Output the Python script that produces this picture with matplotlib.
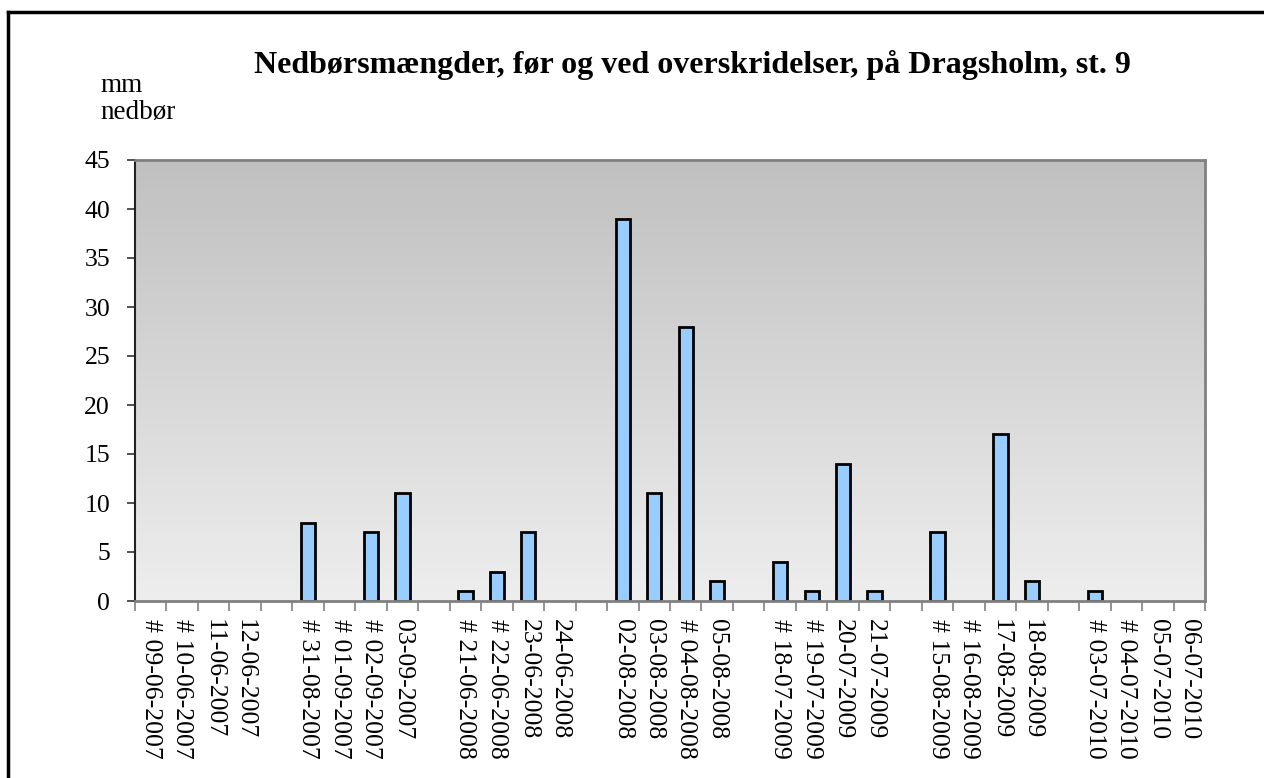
import matplotlib.pyplot as plt
import numpy as np
from matplotlib.colors import LinearSegmentedColormap
from matplotlib.lines import Line2D

plt.rcParams['font.family'] = ['Liberation Serif', 'DejaVu Serif']

# categories ('' = empty slot between the series of dates)
dates = ['# 09-06-2007', '# 10-06-2007', '11-06-2007', '12-06-2007', '',
         '# 31-08-2007', '# 01-09-2007', '# 02-09-2007', '03-09-2007', '',
         '# 21-06-2008', '# 22-06-2008', '23-06-2008', '24-06-2008', '',
         '02-08-2008', '03-08-2008', '# 04-08-2008', '05-08-2008', '',
         '# 18-07-2009', '# 19-07-2009', '20-07-2009', '21-07-2009', '',
         '# 15-08-2009', '# 16-08-2009', '17-08-2009', '18-08-2009', '',
         '# 03-07-2010', '# 04-07-2010', '05-07-2010', '06-07-2010']
mm = [0, 0, 0, 0, 0,
      8, 0, 7, 11, 0,
      1, 3, 7, 0, 0,
      39, 11, 28, 2, 0,
      4, 1, 14, 1, 0,
      7, 0, 17, 2, 0,
      1, 0, 0, 0]
yticks = list(range(0, 50, 5))

fig = plt.figure(figsize=(12.64, 7.78), dpi=100)
ax = fig.add_axes([135/1264, 1 - 601/778, 1070/1264, 441/778])

# grey gradient background
cmap = LinearSegmentedColormap.from_list('bg', ['#eeeeee', '#c0c0c0'])
grad = np.linspace(0, 1, 256).reshape(-1, 1)
ax.imshow(grad, extent=[0, 1, 0, 1], transform=ax.transAxes, aspect='auto',
          cmap=cmap, origin='lower', zorder=0)

x = np.arange(len(dates))
vals = np.array(mm)
show = vals > 0
ax.bar(x[show], vals[show], width=0.45, color='#99ccff', edgecolor='black',
       linewidth=2, zorder=2)

ax.set_xlim(-0.5, len(dates) - 0.5)
ax.set_ylim(0, 45)
ax.set_yticks(yticks)
ax.tick_params(axis='y', labelsize=18.5, length=6, width=1.2, color='#333333', pad=12)

ax.set_xticks(x)
ax.set_xticklabels(dates, rotation=-90, fontsize=18.5, va='top', ha='center')
ax.tick_params(axis='x', which='major', length=0, pad=13)
ax.set_xticks(np.arange(-0.5, len(dates), 1), minor=True)
ax.tick_params(axis='x', which='minor', length=7, width=1.2, color='#808080')

for s in ['top', 'right', 'bottom']:
    ax.spines[s].set_color('#808080')
    ax.spines[s].set_linewidth(2)
ax.spines['left'].set_color('#222222')
ax.spines['left'].set_linewidth(1.5)

fig.text(692/1264, 1 - 73/778, 'Nedbørsmængder, før og ved overskridelser, på Dragsholm, st. 9',
         ha='center', va='baseline', fontsize=23, fontweight='bold')
fig.text(100/1264, 1 - 92/778, 'mm', ha='left', va='baseline', fontsize=19.5)
fig.text(100/1264, 1 - 119/778, 'nedbør', ha='left', va='baseline', fontsize=19.5)

# outer frame
fig.add_artist(Line2D([8/1264, 1], [1 - 12/778, 1 - 12/778], color='black', linewidth=2.5))
fig.add_artist(Line2D([8/1264, 8/1264], [0, 1 - 12/778], color='black', linewidth=2.5))

fig.savefig('out.png', dpi=100)
